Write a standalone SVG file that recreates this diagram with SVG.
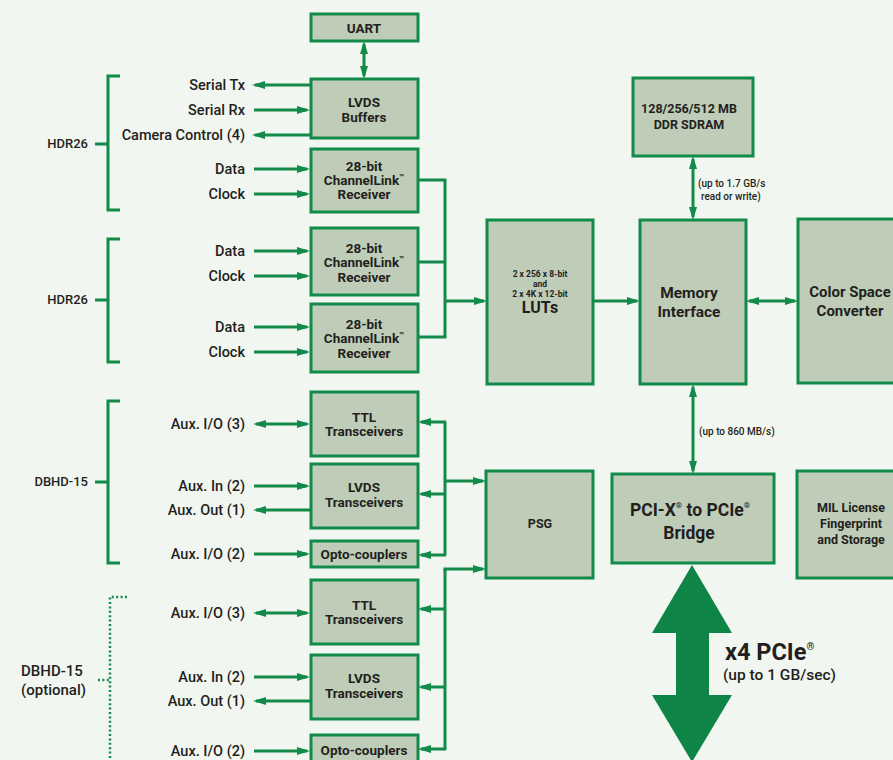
<svg xmlns="http://www.w3.org/2000/svg" width="893" height="760" viewBox="0 0 893 760">
<defs>
<marker id="ah" markerUnits="userSpaceOnUse" markerWidth="14" markerHeight="9" refX="10" refY="4" orient="auto-start-reverse"><path d="M0,0 L13,4 L0,8 z" fill="#118a4a"/></marker>
<style>
.bx{fill:#bfcdb8;stroke:#118a4a;stroke-width:3}
.ln{fill:none;stroke:#118a4a;stroke-width:3}
.e{marker-end:url(#ah)}
.b{marker-start:url(#ah);marker-end:url(#ah)}
.dot{fill:none;stroke:#118a4a;stroke-width:2.5;stroke-dasharray:2 2.4}
text{font-family:Roboto,"Liberation Sans",sans-serif;fill:#231f20}
.t{font-size:13.5px;font-weight:700;text-anchor:middle}
.s{font-size:14.5px;font-weight:500;text-anchor:end}
.c{font-size:13px;font-weight:500;text-anchor:end}
.sm{font-size:10px;font-weight:500}
.sup{font-size:8px}
</style>
</defs>
<rect width="893" height="760" fill="#f2f6f0"/>

<g id="connectors">
<line class="ln b" x1="364" y1="44" x2="364" y2="76"/>
<line class="ln e" x1="310" y1="85" x2="255" y2="85"/>
<line class="ln e" x1="254" y1="110" x2="307" y2="110"/>
<line class="ln e" x1="310" y1="135" x2="255" y2="135"/>
<line class="ln e" x1="254" y1="169" x2="307" y2="169"/>
<line class="ln e" x1="254" y1="194" x2="307" y2="194"/>
<line class="ln e" x1="254" y1="251" x2="307" y2="251"/>
<line class="ln e" x1="254" y1="276" x2="307" y2="276"/>
<line class="ln e" x1="254" y1="327" x2="307" y2="327"/>
<line class="ln e" x1="254" y1="352" x2="307" y2="352"/>
<path class="ln" d="M418,180 H445 V337 H418 M418,262 H445"/>
<line class="ln e" x1="445" y1="301" x2="484" y2="301"/>
<line class="ln e" x1="593" y1="301" x2="637" y2="301"/>
<line class="ln b" x1="749" y1="301" x2="795" y2="301"/>
<line class="ln b" x1="693" y1="159" x2="693" y2="217"/>
<line class="ln b" x1="693" y1="387" x2="693" y2="471"/>
<line class="ln b" x1="256" y1="424" x2="307" y2="424"/>
<line class="ln e" x1="254" y1="486" x2="307" y2="486"/>
<line class="ln e" x1="310" y1="510" x2="256" y2="510"/>
<line class="ln e" x1="254" y1="554" x2="307" y2="554"/>
<path class="ln" d="M445,422 V555"/>
<line class="ln e" x1="446" y1="422" x2="421" y2="422"/>
<line class="ln e" x1="446" y1="494" x2="421" y2="494"/>
<line class="ln e" x1="446" y1="555" x2="421" y2="555"/>
<line class="ln e" x1="445" y1="481" x2="483" y2="481"/>
<line class="ln b" x1="256" y1="613" x2="307" y2="613"/>
<line class="ln e" x1="254" y1="677" x2="307" y2="677"/>
<line class="ln e" x1="310" y1="701" x2="256" y2="701"/>
<line class="ln e" x1="254" y1="751" x2="307" y2="751"/>
<path class="ln" d="M445,750 V569"/>
<line class="ln e" x1="443.5" y1="569" x2="483" y2="569"/>
<line class="ln e" x1="446" y1="609" x2="421" y2="609"/>
<line class="ln e" x1="446" y1="687" x2="421" y2="687"/>
<line class="ln e" x1="446" y1="749" x2="421" y2="749"/>
<polygon points="692,565 732,633 709,633 709,695 732,695 692,762 652,695 676,695 676,633 652,633" fill="#0e8446"/>
</g>

<g id="connector-labels">
<text class="sm" x="698" y="187">(up to 1.7 GB/s</text>
<text class="sm" x="701" y="200">read or write)</text>
<text class="sm" x="699" y="435">(up to 860 MB/s)</text>
<text x="725" y="660" style="font-size:23.5px;font-weight:700">x4 PCIe<tspan style="font-size:10px" dy="-10">®</tspan></text>
<text x="723" y="680" style="font-size:15.5px;font-weight:500">(up to 1 GB/sec)</text>
</g>

<g id="brackets">
<path class="ln" d="M120,76 H108 V210 H120 M95,144 H108"/>
<text class="c" x="88" y="148">HDR26</text>
<path class="ln" d="M120,239 H108 V362 H120 M95,300 H108"/>
<text class="c" x="88" y="304">HDR26</text>
<path class="ln" d="M120,401 H108 V563 H120 M95,482 H108"/>
<text class="c" x="88" y="486">DBHD-15</text>
<path class="dot" d="M127,597 H110 V760 M98,680 H110"/>
<text x="21" y="676" style="font-size:15px;font-weight:500">DBHD-15</text>
<text x="21" y="695" style="font-size:15px;font-weight:500">(optional)</text>
</g>

<g id="signal-labels">
<text class="s" x="245" y="90">Serial Tx</text>
<text class="s" x="245" y="115">Serial Rx</text>
<text class="s" x="245" y="140">Camera Control (4)</text>
<text class="s" x="245" y="174">Data</text>
<text class="s" x="245" y="199">Clock</text>
<text class="s" x="245" y="256">Data</text>
<text class="s" x="245" y="281">Clock</text>
<text class="s" x="245" y="332">Data</text>
<text class="s" x="245" y="357">Clock</text>
<text class="s" x="245" y="429">Aux. I/O (3)</text>
<text class="s" x="245" y="491">Aux. In (2)</text>
<text class="s" x="245" y="515">Aux. Out (1)</text>
<text class="s" x="245" y="559">Aux. I/O (2)</text>
<text class="s" x="245" y="618">Aux. I/O (3)</text>
<text class="s" x="245" y="682">Aux. In (2)</text>
<text class="s" x="245" y="706">Aux. Out (1)</text>
<text class="s" x="245" y="756">Aux. I/O (2)</text>
</g>

<g id="uart"><rect class="bx" x="311" y="14" width="107" height="27"/><text class="t" x="364" y="33">UART</text></g>
<g id="lvds-buffers"><rect class="bx" x="311" y="79" width="107" height="59"/><text class="t" x="364" y="107">LVDS</text><text class="t" x="364" y="122">Buffers</text></g>
<g id="channellink-1"><rect class="bx" x="311" y="149" width="107" height="63"/><text class="t" x="364" y="171">28-bit</text><text class="t" x="364" y="185">ChannelLink<tspan class="sup" dy="-5">™</tspan></text><text class="t" x="364" y="199">Receiver</text></g>
<g id="channellink-2"><rect class="bx" x="311" y="228" width="107" height="67"/><text class="t" x="364" y="253">28-bit</text><text class="t" x="364" y="267">ChannelLink<tspan class="sup" dy="-5">™</tspan></text><text class="t" x="364" y="282">Receiver</text></g>
<g id="channellink-3"><rect class="bx" x="311" y="304" width="107" height="68"/><text class="t" x="364" y="329">28-bit</text><text class="t" x="364" y="343">ChannelLink<tspan class="sup" dy="-5">™</tspan></text><text class="t" x="364" y="358">Receiver</text></g>
<g id="ttl-1"><rect class="bx" x="311" y="392" width="107" height="64"/><text class="t" x="364" y="422">TTL</text><text class="t" x="364" y="436">Transceivers</text></g>
<g id="lvds-trans-1"><rect class="bx" x="311" y="464" width="107" height="64"/><text class="t" x="364" y="492">LVDS</text><text class="t" x="364" y="507">Transceivers</text></g>
<g id="opto-1"><rect class="bx" x="311" y="541" width="107" height="26"/><text class="t" x="364" y="559">Opto-couplers</text></g>
<g id="ttl-2"><rect class="bx" x="311" y="580" width="107" height="64"/><text class="t" x="364" y="610">TTL</text><text class="t" x="364" y="624">Transceivers</text></g>
<g id="lvds-trans-2"><rect class="bx" x="311" y="655" width="107" height="64"/><text class="t" x="364" y="683">LVDS</text><text class="t" x="364" y="698">Transceivers</text></g>
<g id="opto-2"><rect class="bx" x="311" y="735" width="107" height="30"/><text class="t" x="364" y="755">Opto-couplers</text></g>
<g id="luts"><rect class="bx" x="487" y="220" width="106" height="164"/>
<text class="t" x="540" y="277" style="font-size:8.5px">2 x 256 x 8-bit</text>
<text class="t" x="540" y="287" style="font-size:8.5px">and</text>
<text class="t" x="540" y="297" style="font-size:8.5px">2 x 4K x 12-bit</text>
<text class="t" x="540" y="313" style="font-size:16px">LUTs</text></g>
<g id="ddr"><rect class="bx" x="633" y="78" width="120" height="78"/><text class="t" x="689" y="113" style="font-size:12.5px">128/256/512 MB</text><text class="t" x="689" y="129" style="font-size:12.5px">DDR SDRAM</text></g>
<g id="memory"><rect class="bx" x="640" y="220" width="106" height="164"/><text class="t" x="689" y="298" style="font-size:15.5px">Memory</text><text class="t" x="689" y="317" style="font-size:15.5px">Interface</text></g>
<g id="csc"><rect class="bx" x="798" y="219" width="110" height="164"/><text class="t" x="850" y="297" style="font-size:15px">Color Space</text><text class="t" x="850" y="316" style="font-size:15px">Converter</text></g>
<g id="psg"><rect class="bx" x="486" y="471" width="107" height="107"/><text class="t" x="540" y="528" style="font-size:12.5px">PSG</text></g>
<g id="bridge"><rect class="bx" x="612" y="474" width="162" height="89"/><text class="t" x="690" y="516" style="font-size:17.5px">PCI-X<tspan style="font-size:8px" dy="-8">®</tspan><tspan dy="8"> to PCIe</tspan><tspan style="font-size:8px" dy="-8">®</tspan></text><text class="t" x="689" y="539" style="font-size:17.5px">Bridge</text></g>
<g id="mil"><rect class="bx" x="797" y="471" width="110" height="107"/><text class="t" x="851" y="512" style="font-size:12.5px">MIL License</text><text class="t" x="851" y="528" style="font-size:12.5px">Fingerprint</text><text class="t" x="851" y="544" style="font-size:12.5px">and Storage</text></g>
</svg>
